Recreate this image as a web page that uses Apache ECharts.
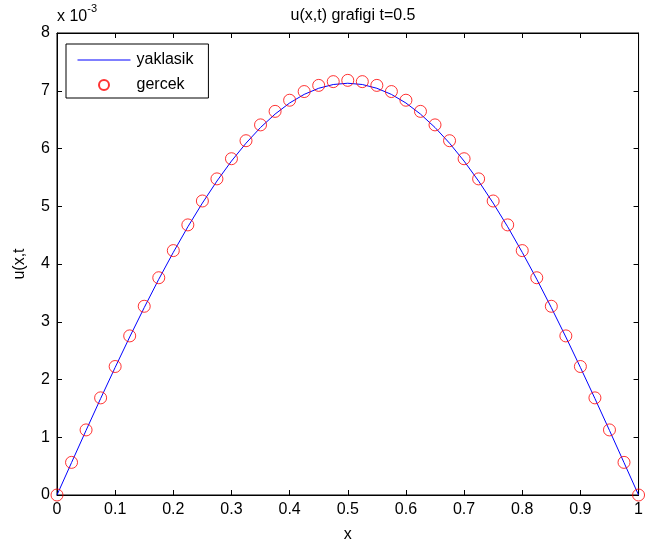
<!DOCTYPE html>
<html><head><meta charset="utf-8">
<script src="https://cdn.jsdelivr.net/npm/echarts@6/dist/echarts.min.js"></script>
<style>html,body{margin:0;padding:0;background:#fff}#c{width:646px;height:548px}</style>
</head><body><div id="c"></div>
<script>
const xs = [0,0.025,0.05,0.075,0.1,0.125,0.15,0.175,0.2,0.225,0.25,0.275,0.3,0.325,0.35,0.375,0.4,0.425,0.45,0.475,0.5,0.525,0.55,0.575,0.6,0.625,0.65,0.675,0.7,0.725,0.75,0.775,0.8,0.825,0.85,0.875,0.9,0.925,0.95,0.975,1];
const gercek = [0,0.565,1.127,1.682,2.225,2.755,3.268,3.762,4.232,4.677,5.091,5.474,5.823,6.135,6.409,6.643,6.836,6.986,7.093,7.158,7.180,7.158,7.093,6.986,6.836,6.643,6.409,6.135,5.823,5.474,5.091,4.677,4.232,3.762,3.268,2.755,2.225,1.682,1.127,0.565,0];
const yaklasik = [0,0.561,1.119,1.670,2.209,2.736,3.245,3.736,4.202,4.644,5.055,5.436,5.782,6.092,6.364,6.596,6.788,6.937,7.043,7.108,7.130,7.108,7.043,6.937,6.788,6.596,6.364,6.092,5.782,5.436,5.055,4.644,4.202,3.736,3.245,2.736,2.209,1.670,1.119,0.561,0];
const xTicks = [0,0.1,0.2,0.3,0.4,0.5,0.6,0.7,0.8,0.9,1];
const yTicks = [0,1,2,3,4,5,6,7,8];

const font = 'Arial, "Liberation Sans", Helvetica, sans-serif';
const FS = 16;
const chart = echarts.init(document.getElementById('c'), null, {renderer:'canvas'});
function axLine(){ return {show:true, onZero:false, lineStyle:{color:'#000', width:1}}; }
function tick(){ return {show:true, inside:true, length:5, lineStyle:{color:'#000', width:1}}; }
chart.setOption({
  animation:false,
  backgroundColor:'#fff',
  title:{text:'u(x,t) grafigi t=0.5', left:348, top:3, textAlign:'center',
    textStyle:{fontFamily:font, fontSize:FS, fontWeight:'normal', color:'#000'}},
  grid:{left:57, right:5, top:33, bottom:53, containLabel:false, show:true,
    borderColor:'#000', borderWidth:1, backgroundColor:'transparent'},
  legend:{
    orient:'vertical', left:66, top:44, padding:[8,15,5,11],
    borderColor:'#000', borderWidth:1, backgroundColor:'#fff',
    itemWidth:53, itemHeight:10, itemGap:9,
    textStyle:{fontFamily:font, fontSize:FS, color:'#000', padding:[0,0,0,1]},
    data:[{name:'yaklasik', itemStyle:{opacity:0}, lineStyle:{width:1, color:'#0000ff'}}, {name:'gercek'}]
  },
  graphic:[
    {type:'text', left:57, top:3, style:{
      text:'{a|x 10}{s|-3}', fontFamily:font,
      rich:{a:{fontSize:FS, fontFamily:font, fill:'#000', verticalAlign:'bottom', padding:[6,0,0,0]},
            s:{fontSize:11, fontFamily:font, fill:'#000', verticalAlign:'top', padding:[0,0,9,0]}}}}
  ],
  xAxis:[
    {type:'value', min:0, max:1, interval:0.1, position:'bottom',
     name:'x', nameLocation:'middle', nameGap:32,
     nameTextStyle:{fontFamily:font, fontSize:FS, color:'#000'},
     axisLine:axLine(), axisTick:tick(), splitLine:{show:false},
     axisLabel:{fontFamily:font, fontSize:FS, color:'#000', margin:7,
       formatter:v=>String(Math.round(v*10)/10)}},
    {type:'value', min:0, max:1, interval:0.1, position:'top',
     axisLine:axLine(), axisTick:tick(), splitLine:{show:false}, axisLabel:{show:false}}
  ],
  yAxis:[
    {type:'value', min:0, max:8, interval:1, position:'left',
     name:'u(x,t', nameLocation:'middle', nameGap:29, nameRotate:90,
     nameTextStyle:{fontFamily:font, fontSize:FS, color:'#000'},
     axisLine:axLine(), axisTick:tick(), splitLine:{show:false},
     axisLabel:{fontFamily:font, fontSize:FS, color:'#000', margin:7}},
    {type:'value', min:0, max:8, interval:1, position:'right',
     axisLine:axLine(), axisTick:tick(), splitLine:{show:false}, axisLabel:{show:false}}
  ],
  series:[
    {name:'yaklasik', type:'line', xAxisIndex:0, yAxisIndex:0,
     data:xs.map((x,i)=>[x,yaklasik[i]]), showSymbol:false, symbol:'none',
     lineStyle:{color:'#0000ff', width:1}, itemStyle:{color:'#0000ff'}, z:2},
    {name:'gercek', type:'scatter', xAxisIndex:0, yAxisIndex:0,
     data:xs.map((x,i)=>[x,gercek[i]]), symbol:'circle', symbolSize:12,
     itemStyle:{color:'rgba(0,0,0,0)', borderColor:'#ff0000', borderWidth:1}, z:3},
    {name:'_frame', type:'scatter', xAxisIndex:1, yAxisIndex:1, data:[], silent:true}
  ]
});
</script></body></html>
